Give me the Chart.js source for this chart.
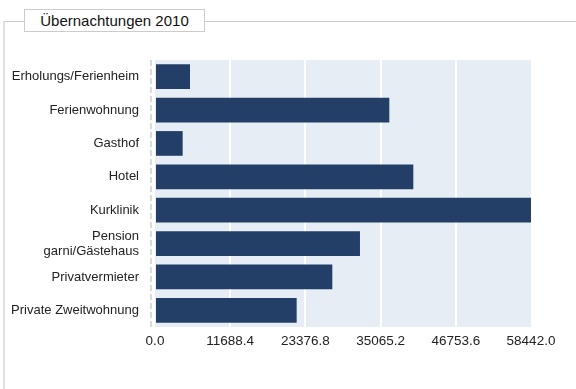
<!DOCTYPE html>
<html>
<head>
<meta charset="utf-8">
<script src="https://cdn.jsdelivr.net/npm/chart.js@4/dist/chart.umd.min.js"></script>
<style>
  html, body { margin: 0; padding: 0; background: #fff; }
  body { width: 576px; height: 389px; position: relative; overflow: hidden; font-family: "Liberation Sans", Arial, sans-serif; }
  #frame { position: absolute; left: 3px; top: 21px; width: 600px; height: 400px; border-left: 2px solid #e0e0e0; border-top: 1px solid #ccc; }
  #legend { position: absolute; left: 24px; top: 9px; width: 179px; height: 21px; border: 1px solid #ccc; background: #fff; font-size: 15px; line-height: 22px; text-align: center; color: #111; }
  #wrap { position: absolute; left: 0; top: 0; width: 576px; height: 389px; }
</style>
</head>
<body>
<div id="frame"></div>
<div id="legend">Übernachtungen 2010</div>
<div id="wrap"><canvas id="chart" width="576" height="389"></canvas></div>
<script>
var categories = ['Erholungs/Ferienheim', 'Ferienwohnung', 'Gasthof', 'Hotel', 'Kurklinik',
                  ['Pension', 'garni/Gästehaus'], 'Privatvermieter', 'Private Zweitwohnung'];
var values = [5440, 36420, 4300, 40150, 58442, 31860, 27560, 22020];
var tickValues = [0, 11688.4, 23376.8, 35065.2, 46753.6, 58442.0];

// light blue plot background and the faint axis line on the left
var plotBackground = {
    id: 'plotBackground',
    beforeDraw: function (chart) {
        var a = chart.chartArea, ctx = chart.ctx;
        ctx.save();
        ctx.fillStyle = '#e7edf5';
        ctx.fillRect(a.left, a.top, a.right - a.left, a.bottom - a.top);
        ctx.strokeStyle = '#dadada';
        ctx.lineWidth = 2;
        ctx.setLineDash([6, 3]);
        ctx.beginPath();
        ctx.moveTo(a.left - 4, a.top);
        ctx.lineTo(a.left - 4, a.bottom);
        ctx.stroke();
        ctx.restore();
    }
};

var config = {
    type: 'bar',
    data: {
        labels: categories,
        datasets: [{
            data: values,
            backgroundColor: '#233f68',
            borderWidth: 0,
            barPercentage: 0.74,
            categoryPercentage: 1
        }]
    },
    options: {
        indexAxis: 'y',
        responsive: false,
        animation: false,
        layout: { padding: { top: 60, right: 45, left: 0, bottom: 0 } },
        plugins: { legend: { display: false }, tooltip: { enabled: false } },
        scales: {
            x: {
                min: 0,
                max: 58442,
                afterBuildTicks: function (scale) {
                    scale.ticks = tickValues.map(function (v) { return { value: v }; });
                },
                afterFit: function (scale) { scale.height = 62; },
                grid: {
                    drawTicks: false,
                    lineWidth: 2,
                    color: function (c) {
                        return (c.index === 0 || c.index === tickValues.length - 1) ? 'rgba(0,0,0,0)' : '#ffffff';
                    }
                },
                border: { display: false },
                ticks: {
                    padding: 6,
                    maxRotation: 0,
                    autoSkip: false,
                    color: '#222',
                    font: { family: '"Liberation Sans", Arial, sans-serif', size: 13.5 },
                    callback: function (v) { return Number(v).toFixed(1); }
                }
            },
            y: {
                afterFit: function (scale) { scale.width = 155; },
                grid: { display: false, drawTicks: false },
                border: { display: false },
                ticks: {
                    padding: 16,
                    color: '#222',
                    font: { family: '"Liberation Sans", Arial, sans-serif', size: 13, lineHeight: 1.15 }
                }
            }
        }
    },
    plugins: [plotBackground]
};

window.myChart = new Chart(document.getElementById('chart').getContext('2d'), config);
</script>
</body>
</html>
